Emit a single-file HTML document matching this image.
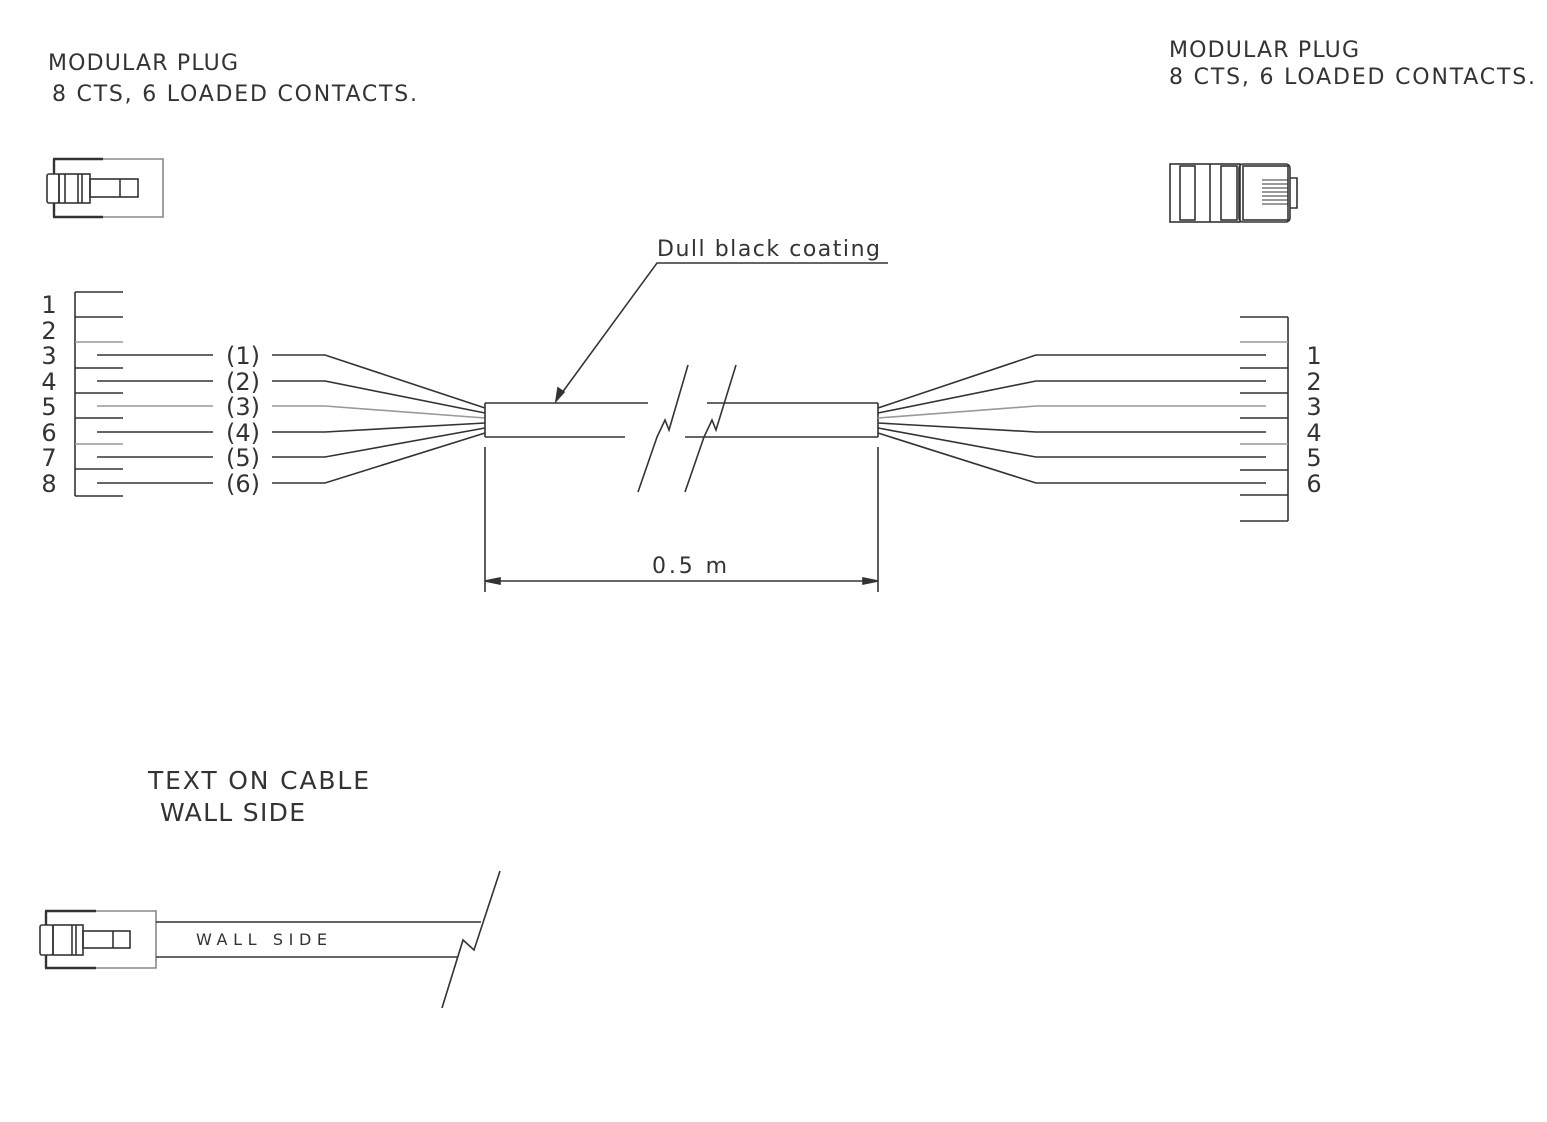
<!DOCTYPE html>
<html><head><meta charset="utf-8"><style>
html,body{margin:0;padding:0;background:#fff;}
svg{display:block;}
text{font-family:"DejaVu Sans","Liberation Sans",sans-serif;fill:#333;}
</style></head><body>
<svg width="1547" height="1122" viewBox="0 0 1547 1122" xmlns="http://www.w3.org/2000/svg">
<g stroke="#333" stroke-width="1.6" fill="none">
<line x1="75" y1="292" x2="75" y2="496"/>
<line x1="75" y1="292" x2="123" y2="292"/><line x1="75" y1="317" x2="123" y2="317"/>
<line x1="75" y1="342" x2="123" y2="342" stroke="#999"/><line x1="75" y1="368" x2="123" y2="368"/>
<line x1="75" y1="393" x2="123" y2="393"/><line x1="75" y1="418" x2="123" y2="418"/>
<line x1="75" y1="444" x2="123" y2="444" stroke="#999"/><line x1="75" y1="469" x2="123" y2="469"/>
<line x1="75" y1="496" x2="123" y2="496"/>
<g>
<polyline points="97,355 213,355"/><polyline points="272,355 325,355 485,408"/>
<polyline points="97,381 213,381"/><polyline points="272,381 325,381 485,413"/>
<polyline points="97,406 213,406" stroke="#999"/><polyline points="272,406 325,406 485,418" stroke="#999"/>
<polyline points="97,432 213,432"/><polyline points="272,432 325,432 485,423"/>
<polyline points="97,457 213,457"/><polyline points="272,457 325,457 485,428"/>
<polyline points="97,483 213,483"/><polyline points="272,483 325,483 485,433"/>
</g>
<path d="M485,403 H648 M485,437 H625 M485,403 V437 M878,403 V437 M707,403 H878 M685,437 H878"/>
<path d="M638,492 L657,437 L665,420 L669,430 L688,365"/>
<path d="M685,492 L704,437 L712,420 L716,430 L736,365"/>
<path d="M888,263 H657 L556,401"/>
<path d="M556,401 L558,388 L564,392 Z" fill="#333"/>
<line x1="485" y1="447" x2="485" y2="592"/><line x1="878" y1="447" x2="878" y2="592"/>
<line x1="485" y1="581" x2="878" y2="581"/>
<path d="M485,581 L500,578 L500,584 Z M878,581 L863,578 L863,584 Z" fill="#333"/>
<polyline points="878,408 1036,355 1266,355"/>
<polyline points="878,413 1036,381 1266,381"/>
<polyline points="878,418 1036,406 1266,406" stroke="#999"/>
<polyline points="878,423 1036,432 1266,432"/>
<polyline points="878,428 1036,457 1266,457"/>
<polyline points="878,433 1036,483 1266,483"/>
<line x1="1288" y1="317" x2="1288" y2="521"/>
<line x1="1240" y1="317" x2="1288" y2="317"/><line x1="1240" y1="342" x2="1288" y2="342" stroke="#999"/>
<line x1="1240" y1="368" x2="1288" y2="368"/><line x1="1240" y1="393" x2="1288" y2="393"/>
<line x1="1240" y1="418" x2="1288" y2="418"/><line x1="1240" y1="444" x2="1288" y2="444" stroke="#999"/>
<line x1="1240" y1="470" x2="1288" y2="470"/><line x1="1240" y1="495" x2="1288" y2="495"/>
<line x1="1240" y1="521" x2="1288" y2="521"/>
<path d="M55,159 H163 V217 H55" stroke="#888"/>
<path d="M53,159 H103 M53,217 H103 M54,159 V174 M54,203 V217" stroke-width="2.4"/>
<rect x="47" y="174" width="12" height="29" rx="2"/>
<rect x="59" y="174" width="31" height="29"/>
<line x1="65" y1="174" x2="65" y2="203"/><line x1="78" y1="174" x2="78" y2="203"/><line x1="82" y1="174" x2="82" y2="203"/>
<rect x="90" y="179" width="48" height="18"/><line x1="120" y1="179" x2="120" y2="197"/>
<rect x="1170" y="164" width="70" height="58"/>
<rect x="1180" y="166" width="15" height="54"/><line x1="1210" y1="164" x2="1210" y2="222"/>
<rect x="1221" y="166" width="16" height="54"/>
<rect x="1239" y="164" width="51" height="58" rx="4"/>
<rect x="1243" y="166" width="45" height="54"/>
<path d="M1290,178 H1297 V208 H1290"/>
<g stroke-width="1"><line x1="1262" y1="180" x2="1288" y2="180"/><line x1="1262" y1="184" x2="1288" y2="184"/><line x1="1262" y1="188" x2="1288" y2="188"/><line x1="1262" y1="192" x2="1288" y2="192"/><line x1="1262" y1="196" x2="1288" y2="196"/><line x1="1262" y1="200" x2="1288" y2="200"/><line x1="1262" y1="204" x2="1288" y2="204"/></g>
<path d="M46,911 H156 V968 H46" stroke="#888"/>
<path d="M45,911 H96 M45,968 H96 M46,911 V925 M46,955 V968" stroke-width="2.4"/>
<rect x="40" y="925" width="13" height="30" rx="2"/>
<rect x="53" y="925" width="30" height="30"/>
<line x1="72" y1="925" x2="72" y2="955"/><line x1="76" y1="925" x2="76" y2="955"/>
<rect x="83" y="931" width="47" height="17"/><line x1="113" y1="931" x2="113" y2="948"/>
<line x1="156" y1="922" x2="481" y2="922"/><line x1="156" y1="957" x2="458" y2="957"/>
<path d="M442,1008 L463,940 L474,950 L500,871"/>
</g>
<g font-size="22">
<text x="48" y="70" textLength="190" lengthAdjust="spacing">MODULAR PLUG</text>
<text x="52" y="101" textLength="365" lengthAdjust="spacing">8 CTS, 6 LOADED CONTACTS.</text>
<text x="1169" y="57" textLength="190" lengthAdjust="spacing">MODULAR PLUG</text>
<text x="1169" y="84" textLength="366" lengthAdjust="spacing">8 CTS, 6 LOADED CONTACTS.</text>
<text x="657" y="256" textLength="223" lengthAdjust="spacing">Dull black coating</text>
<text x="652" y="573" textLength="75" lengthAdjust="spacing">0.5 m</text>
<text x="148" y="789" font-size="25" textLength="221" lengthAdjust="spacing">TEXT ON CABLE</text>
<text x="160" y="821" font-size="25" textLength="145" lengthAdjust="spacing">WALL SIDE</text>
<text x="196" y="945" font-size="16" textLength="131" lengthAdjust="spacing">WALL SIDE</text>
</g>
<g font-size="24" text-anchor="middle">
<text x="49" y="313">1</text><text x="49" y="339">2</text><text x="49" y="364">3</text><text x="49" y="390">4</text>
<text x="49" y="415">5</text><text x="49" y="441">6</text><text x="49" y="466">7</text><text x="49" y="492">8</text>
<text x="243" y="364">(1)</text><text x="243" y="390">(2)</text><text x="243" y="415">(3)</text>
<text x="243" y="441">(4)</text><text x="243" y="466">(5)</text><text x="243" y="492">(6)</text>
<text x="1314" y="364">1</text><text x="1314" y="390">2</text><text x="1314" y="415">3</text>
<text x="1314" y="441">4</text><text x="1314" y="466">5</text><text x="1314" y="492">6</text>
</g>
</svg>
</body></html>
